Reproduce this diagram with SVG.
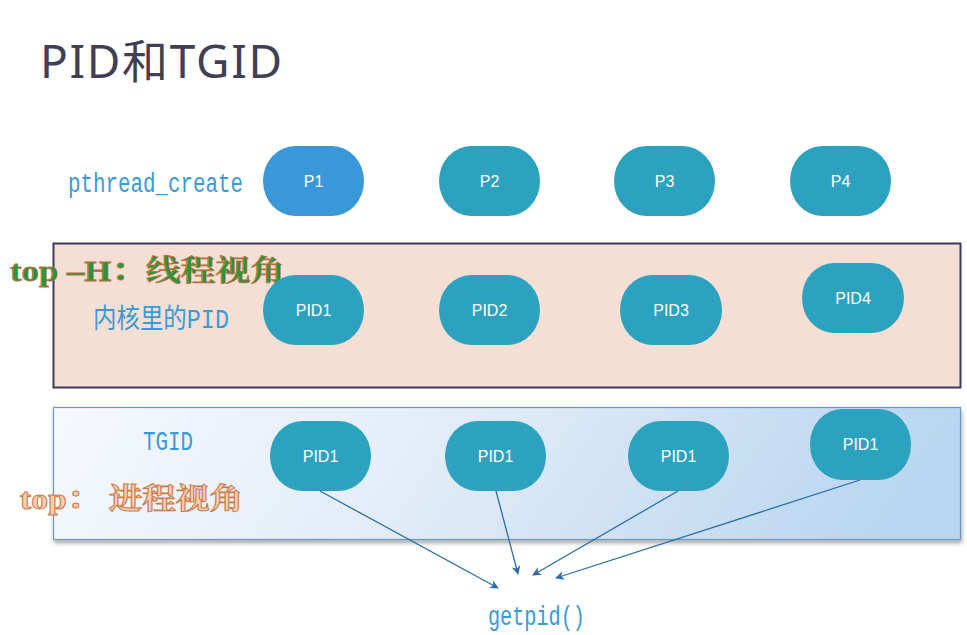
<svg xmlns="http://www.w3.org/2000/svg" width="967" height="635" viewBox="0 0 967 635">
<defs>
<linearGradient id="bg2" x1="0" y1="0" x2="1" y2="0.1">
<stop offset="0" stop-color="#f6f9fe"/>
<stop offset="0.45" stop-color="#e2ecf8"/>
<stop offset="1" stop-color="#b9d6f0"/>
</linearGradient>
<filter id="sh" x="-5%" y="-10%" width="110%" height="130%">
<feDropShadow dx="1" dy="3" stdDeviation="2" flood-color="#000" flood-opacity="0.35"/>
</filter>
<marker id="ah" viewBox="0 0 10 10" refX="9" refY="5" markerWidth="9" markerHeight="9" markerUnits="userSpaceOnUse" orient="auto">
<path d="M0,0 L10,5 L0,10 L3,5 Z" fill="#2a6ea8"/>
</marker>
</defs>
<style>
.node rect{fill:#2ca2bf}
.node text{fill:#fff;font-family:"Liberation Sans",Arial,sans-serif;font-size:16px;text-anchor:middle}
.lbl{fill:#3a9ad9;font-family:"Liberation Mono","Noto Sans CJK SC",monospace}
.conn line{stroke:#2a6ea8;stroke-width:1.3;marker-end:url(#ah)}
</style>
<rect width="967" height="635" fill="#fff"/>
<text x="40" y="78" font-family="'Noto Sans','Noto Sans CJK SC',sans-serif" font-size="46" fill="#3f3f55" textLength="242" lengthAdjust="spacing">PID和TGID</text>

<g id="box-kernel"><rect x="53.5" y="243.5" width="907" height="144" fill="#f5dfd4" stroke="#3d3a5c" stroke-width="2"/></g>
<g id="box-tgid"><rect x="53.5" y="407.5" width="907" height="132" fill="url(#bg2)" stroke="#6a96bf" stroke-width="1.2" filter="url(#sh)"/></g>

<text class="lbl" x="68" y="192" font-size="27" textLength="175" lengthAdjust="spacingAndGlyphs">pthread_create</text>
<text class="lbl" x="93" y="328" font-size="27" textLength="136" lengthAdjust="spacingAndGlyphs">内核里的PID</text>
<text class="lbl" x="143" y="450" font-size="27" textLength="50" lengthAdjust="spacingAndGlyphs">TGID</text>
<text class="lbl" x="488" y="625" font-size="27" textLength="97" lengthAdjust="spacingAndGlyphs">getpid()</text>

<text x="10" y="281" font-family="'Liberation Serif','Noto Serif CJK SC','Noto Sans CJK SC',serif" font-weight="bold" font-size="29" fill="#1e9a3c" stroke="#b8703c" stroke-width="0.8" textLength="275" lengthAdjust="spacingAndGlyphs">top –H：线程视角</text>
<text x="20" y="509" font-family="'Liberation Serif','Noto Serif CJK SC','Noto Sans CJK SC',serif" font-weight="bold" font-size="29" fill="#f6cfb2" stroke="#cf7a46" stroke-width="1" textLength="223" lengthAdjust="spacingAndGlyphs">top：  进程视角</text>

<g id="P1" class="node"><rect x="263" y="146" width="101" height="70" rx="32" ry="35" style="fill:#3a98d8"/><text x="313.5" y="187">P1</text></g>
<g id="P2" class="node"><rect x="439" y="146" width="101" height="70" rx="32" ry="35"/><text x="489.5" y="187">P2</text></g>
<g id="P3" class="node"><rect x="614" y="146" width="101" height="70" rx="32" ry="35"/><text x="664.5" y="187">P3</text></g>
<g id="P4" class="node"><rect x="790" y="146" width="101" height="70" rx="32" ry="35"/><text x="840.5" y="187">P4</text></g>

<g id="PID1" class="node"><rect x="263" y="275" width="101" height="70" rx="32" ry="35"/><text x="313.5" y="316">PID1</text></g>
<g id="PID2" class="node"><rect x="439" y="275" width="101" height="70" rx="32" ry="35"/><text x="489.5" y="316">PID2</text></g>
<g id="PID3" class="node"><rect x="620" y="275" width="102" height="70" rx="32" ry="35"/><text x="671" y="316">PID3</text></g>
<g id="PID4" class="node"><rect x="802" y="263" width="102" height="70" rx="32" ry="35"/><text x="853" y="304">PID4</text></g>

<g id="T1" class="node"><rect x="270" y="421" width="101" height="70" rx="32" ry="35"/><text x="320.5" y="462">PID1</text></g>
<g id="T2" class="node"><rect x="445" y="421" width="101" height="70" rx="32" ry="35"/><text x="495.5" y="462">PID1</text></g>
<g id="T3" class="node"><rect x="628" y="421" width="101" height="70" rx="32" ry="35"/><text x="678.5" y="462">PID1</text></g>
<g id="T4" class="node"><rect x="810" y="409" width="101" height="71" rx="32" ry="35"/><text x="860.5" y="450">PID1</text></g>

<g id="connectors" class="conn">
<line x1="320" y1="491" x2="498" y2="588"/>
<line x1="496" y1="491" x2="518" y2="574"/>
<line x1="678" y1="491" x2="533" y2="575"/>
<line x1="860" y1="480" x2="556" y2="578"/>
</g>
</svg>
